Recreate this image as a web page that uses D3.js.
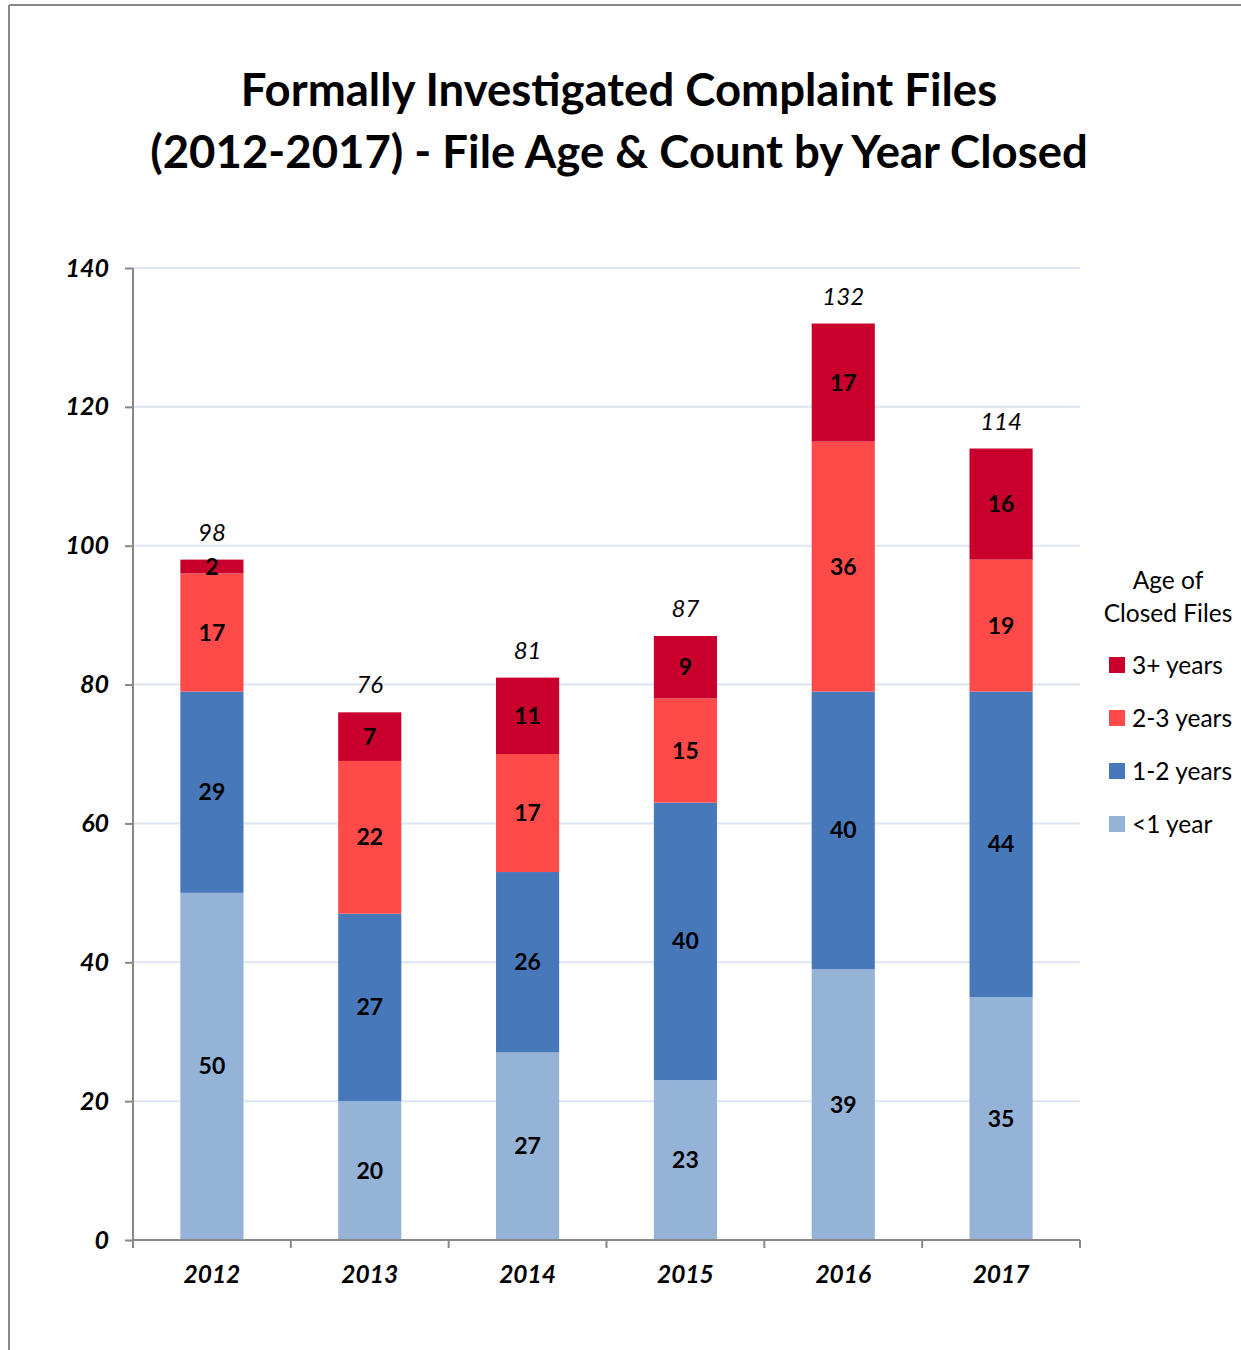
<!DOCTYPE html>
<html><head><meta charset="utf-8">
<script src="https://cdn.jsdelivr.net/npm/d3@7"></script>
<style>body{margin:0;background:#fff;} svg{display:block;}</style>
</head><body>
<svg id="chart" width="1241" height="1350"></svg>
<script>
const years = ["2012","2013","2014","2015","2016","2017"];
const seriesNames = ["<1 year","1-2 years","2-3 years","3+ years"];
const lessThan1 = [50,20,27,23,39,35];
const oneToTwo = [29,27,26,40,40,44];
const twoToThree = [17,22,17,15,36,19];
const threePlus = [2,7,11,9,17,16];
const totals = [98,76,81,87,132,114];
const yTicks = [0,20,40,60,80,100,120,140];
const colors = ["#95B3D7","#4779BA","#FF4A4A","#C8002B"];

const values = [lessThan1, oneToTwo, twoToThree, threePlus];
const table = years.map((y,i)=>{const o={year:y}; seriesNames.forEach((s,k)=>o[s]=values[k][i]); return o;});
const stacked = d3.stack().keys(seriesNames)(table);

const FONT = "Lato, 'Open Sans', sans-serif";
const svg = d3.select("#chart");
svg.append("line").attr("x1",9).attr("x2",1241).attr("y1",5).attr("y2",5).attr("stroke","#888").attr("stroke-width",2);
svg.append("line").attr("x1",9).attr("x2",9).attr("y1",5).attr("y2",1350).attr("stroke","#888").attr("stroke-width",2);

const title = svg.append("text").attr("font-family",FONT).attr("font-weight","bold").attr("font-size",45.5).attr("text-anchor","middle").attr("fill","#000");
title.append("tspan").attr("x",619).attr("y",106).text("Formally Investigated Complaint Files");
title.append("tspan").attr("x",619).attr("y",168).text("(2012-2017) - File Age & Count by Year Closed");

const x = d3.scaleBand().domain(years).range([133,1080]).paddingInner(0.6).paddingOuter(0.3);
const xb = d3.scaleBand().domain(years).range([133,1080]);
const y = d3.scaleLinear().domain([0,140]).range([1240,268]);

// gridlines
svg.append("g").selectAll("line").data(yTicks.filter(t=>t>0)).join("line")
  .attr("x1",133).attr("x2",1080).attr("y1",d=>y(d)).attr("y2",d=>y(d))
  .attr("stroke","#DCE6F2").attr("stroke-width",2);

// bars
const layers = svg.append("g").selectAll("g").data(stacked).join("g").attr("fill",(d,i)=>colors[i]);
layers.selectAll("rect").data(d=>d).join("rect")
  .attr("x",d=>x(d.data.year)).attr("width",x.bandwidth())
  .attr("y",d=>y(d[1])).attr("height",d=>y(d[0])-y(d[1]));

// segment labels
stacked.forEach((layer)=>{
  svg.append("g").selectAll("text").data(layer).join("text")
    .attr("x",d=>x(d.data.year)+x.bandwidth()/2)
    .attr("y",d=>(y(d[0])+y(d[1]))/2+8)
    .attr("text-anchor","middle").attr("font-family",FONT).attr("font-weight","bold").attr("font-size",23).attr("fill","#000")
    .text(d=>d[1]-d[0]);
});

// totals
svg.append("g").selectAll("text").data(years).join("text")
  .attr("x",d=>x(d)+x.bandwidth()/2).attr("y",(d,i)=>y(totals[i])-19)
  .attr("text-anchor","middle").attr("font-family",FONT).attr("font-style","italic").attr("font-size",24).attr("fill","#000")
  .text((d,i)=>totals[i]);

// y axis
const yAxis = svg.append("g").attr("transform","translate(133,0)").call(d3.axisLeft(y).tickValues(yTicks).tickSize(8).tickPadding(16));
yAxis.select(".domain").attr("stroke","#888").attr("stroke-width",2).attr("d","M0,268V1240");
yAxis.selectAll(".tick line").attr("stroke","#888").attr("stroke-width",2);
yAxis.selectAll(".tick text").attr("font-family",FONT).attr("font-weight","bold").attr("font-style","italic").attr("font-size",25).attr("fill","#000");

// x axis
const xAxis = svg.append("g").attr("transform","translate(0,1240)").call(d3.axisBottom(x).tickSize(0).tickPadding(26));
xAxis.select(".domain").attr("stroke","#888").attr("stroke-width",2).attr("d","M133,0H1080");
xAxis.selectAll(".tick text").attr("font-family",FONT).attr("font-weight","bold").attr("font-style","italic").attr("font-size",24.5).attr("fill","#000");
svg.append("g").selectAll("line").data(years.concat(["end"])).join("line")
  .attr("x1",(d,i)=>133+i*xb.step()).attr("x2",(d,i)=>133+i*xb.step())
  .attr("y1",1240).attr("y2",1248).attr("stroke","#888").attr("stroke-width",2);

// legend
const lg = svg.append("g");
lg.append("text").attr("x",1168).attr("y",589).attr("text-anchor","middle").attr("font-family",FONT).attr("font-size",24.5).text("Age of");
lg.append("text").attr("x",1168).attr("y",622).attr("text-anchor","middle").attr("font-family",FONT).attr("font-size",24.5).text("Closed Files");
const order = [3,2,1,0];
order.forEach((k,i)=>{
  const yy = 665 + i*53;
  lg.append("rect").attr("x",1109).attr("y",yy-8).attr("width",16).attr("height",16).attr("fill",colors[k]);
  lg.append("text").attr("x",1132).attr("y",yy+9).attr("font-family",FONT).attr("font-size",24.5).text(seriesNames[k]);
});
</script>
</body></html>
